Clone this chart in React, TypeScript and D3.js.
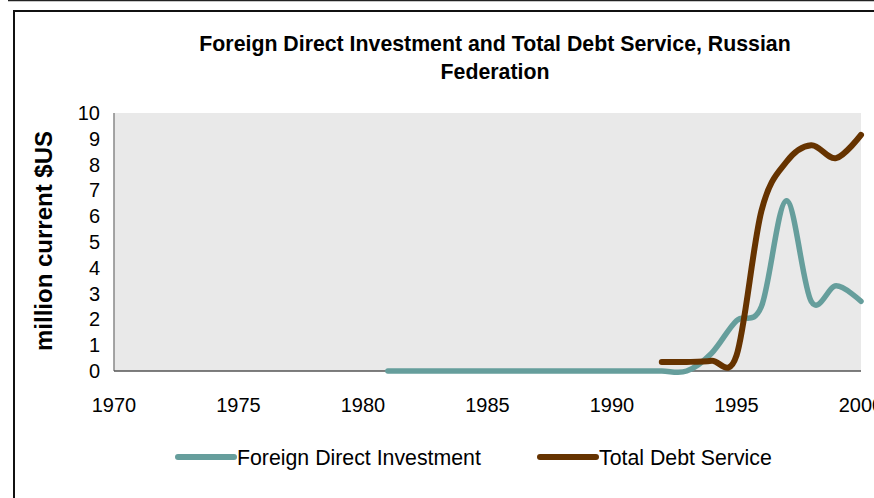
import React from "react";
import * as d3 from "d3";

const fdiYears = [1981, 1982, 1983, 1984, 1985, 1986, 1987, 1988, 1989, 1990, 1991, 1992, 1993, 1994, 1995, 1996, 1997, 1998, 1999, 2000];
const fdiValues = [0, 0, 0, 0, 0, 0, 0, 0, 0, 0, 0, 0, 0, 0.69, 1.95, 2.5, 6.6, 2.7, 3.3, 2.7];
const debtYears = [1992, 1993, 1994, 1995, 1996, 1997, 1998, 1999, 2000];
const debtValues = [0.35, 0.35, 0.4, 0.6, 6.2, 8.1, 8.75, 8.25, 9.15];
const xTicks = [1970, 1975, 1980, 1985, 1990, 1995, 2000];
const yTicks = [0, 1, 2, 3, 4, 5, 6, 7, 8, 9, 10];
const titleLines = ["Foreign Direct Investment and Total Debt Service, Russian", "Federation"];
const yLabel = "million current $US";
const seriesNames = ["Foreign Direct Investment", "Total Debt Service"];
const colors = ["#669e9c", "#663300"];

export default function App() {
  const W = 874, H = 498;
  const left = 114, right = 861, top = 113, bottom = 371;
  const x = d3.scaleLinear().domain([1970, 2000]).range([left, right]);
  const y = d3.scaleLinear().domain([0, 10]).range([bottom, top]);
  const line = d3
    .line<[number, number]>()
    .x((d) => x(d[0]))
    .y((d) => y(d[1]))
    .curve(d3.curveCardinal.tension(0));
  const fdiPath = line(fdiYears.map((yr, i) => [yr, fdiValues[i]]) as [number, number][]) || "";
  const debtPath = line(debtYears.map((yr, i) => [yr, debtValues[i]]) as [number, number][]) || "";
  const font = "'Liberation Sans', Arial, sans-serif";
  return (
    <svg width={W} height={H} style={{ position: "absolute", left: 0, top: 0, background: "#fff" }} fontFamily={font}>
      <rect x={0} y={0} width={W} height={H} fill="#fff" />
      <line x1={8} y1={0.5} x2={W} y2={0.5} stroke="#222" strokeWidth={1.5} />
      <line x1={8.5} y1={0} x2={8.5} y2={1} stroke="#222" />
      <path d={`M14,${H} V11 H${W}`} fill="none" stroke="#111" strokeWidth={2} />
      {titleLines.map((t, i) => (
        <text key={i} x={495} y={51 + i * 28} textAnchor="middle" fontSize={21.3} fontWeight="bold" fill="#000">
          {t}
        </text>
      ))}
      <text transform={`translate(52,${241}) rotate(-90)`} textAnchor="middle" fontSize={24} fontWeight="bold" fill="#000">
        {yLabel}
      </text>
      <rect x={left} y={top} width={right - left} height={bottom - top} fill="#e9e9e9" />
      <line x1={left} y1={top} x2={left} y2={bottom} stroke="#888" strokeWidth={1.5} />
      <line x1={left} y1={bottom} x2={right} y2={bottom} stroke="#555" strokeWidth={1.5} />
      {yTicks.map((t) => (
        <text key={t} x={100} y={y(t) + 7} textAnchor="end" fontSize={20} fill="#000">
          {t}
        </text>
      ))}
      {xTicks.map((t) => (
        <text key={t} x={x(t)} y={412} textAnchor="middle" fontSize={20} fill="#000">
          {t}
        </text>
      ))}
      <path d={fdiPath} fill="none" stroke={colors[0]} strokeWidth={5.5} strokeLinecap="round" strokeLinejoin="round" />
      <path d={debtPath} fill="none" stroke={colors[1]} strokeWidth={6} strokeLinecap="round" strokeLinejoin="round" />
      {[0, 1].map((i) => {
        const lx = i === 0 ? 178 : 540;
        return (
          <g key={i}>
            <line x1={lx} y1={457} x2={lx + 56} y2={457} stroke={colors[i]} strokeWidth={6} strokeLinecap="round" />
            <text x={lx + 59} y={465} fontSize={21.3} fill="#000">
              {seriesNames[i]}
            </text>
          </g>
        );
      })}
    </svg>
  );
}
